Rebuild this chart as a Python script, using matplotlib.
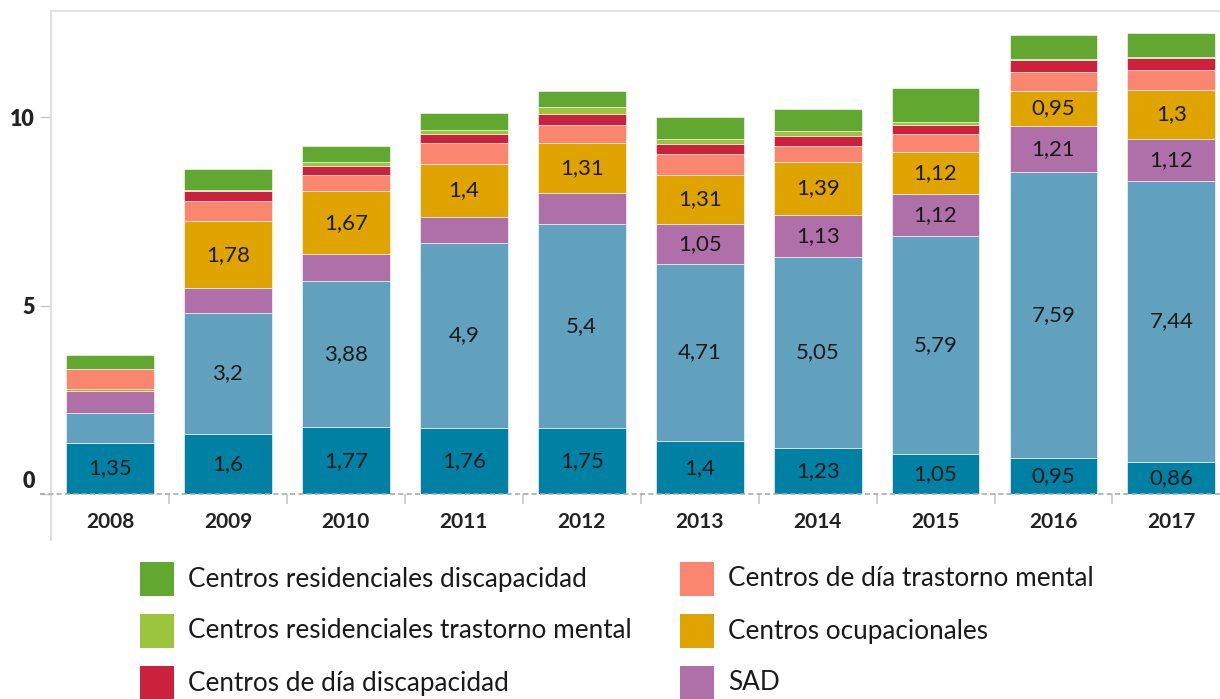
import matplotlib
matplotlib.use("Agg")
import matplotlib.pyplot as plt
import matplotlib.transforms as mtransforms
from matplotlib.patches import Rectangle

plt.rcParams["font.family"] = ["Lato", "DejaVu Sans"]

# datos (de abajo hacia arriba)
years = ["2008", "2009", "2010", "2011", "2012", "2013", "2014", "2015", "2016", "2017"]
serie_a = [1.35, 1.6, 1.77, 1.76, 1.75, 1.4, 1.23, 1.05, 0.95, 0.86]          # azul oscuro
serie_b = [0.80, 3.2, 3.88, 4.9, 5.4, 4.71, 5.05, 5.79, 7.59, 7.44]           # azul claro
sad = [0.58, 0.66, 0.71, 0.70, 0.84, 1.05, 1.13, 1.12, 1.21, 1.12]
ocupacionales = [0.05, 1.78, 1.67, 1.4, 1.31, 1.31, 1.39, 1.12, 0.95, 1.3]
dia_mental = [0.54, 0.53, 0.42, 0.56, 0.48, 0.56, 0.43, 0.48, 0.49, 0.53]
dia_discap = [0.0, 0.26, 0.25, 0.24, 0.31, 0.26, 0.26, 0.24, 0.32, 0.32]
resid_mental = [0.0, 0.04, 0.10, 0.09, 0.18, 0.13, 0.15, 0.08, 0.02, 0.02]
resid_discap = [0.37, 0.55, 0.44, 0.45, 0.42, 0.57, 0.56, 0.88, 0.65, 0.65]

series = [
    ("", serie_a, "#0080A3"),
    ("", serie_b, "#62A1BE"),
    ("SAD", sad, "#AF6FA8"),
    ("Centros ocupacionales", ocupacionales, "#E0A400"),
    ("Centros de día trastorno mental", dia_mental, "#FA866F"),
    ("Centros de día discapacidad", dia_discap, "#CB213D"),
    ("Centros residenciales trastorno mental", resid_mental, "#9BC53D"),
    ("Centros residenciales discapacidad", resid_discap, "#62A830"),
]
n_etiquetadas = 4  # solo las 4 primeras series llevan etiqueta
umbral = 0.85

W, H = 1220, 699
fig = plt.figure(figsize=(W / 100, H / 100), dpi=100)
ax = fig.add_axes([51 / W, 1 - 494 / H, (1230.4 - 51) / W, (494 - 11) / H])

x = list(range(len(years)))
bottom = [0.0] * len(years)
for i, (name, vals, color) in enumerate(series):
    ax.bar(x, vals, bottom=bottom, width=0.745, color=color, edgecolor="white", linewidth=0.4, zorder=2)
    if i < n_etiquetadas:
        for xi, b, v in zip(x, bottom, vals):
            if v > umbral:
                ax.text(xi, b + v / 2, f"{v:g}".replace(".", ","), ha="center", va="center",
                        fontsize=16, color="#1a1a1a", zorder=3)
    bottom = [b + v for b, v in zip(bottom, vals)]

ax.set_xlim(-0.5, 9.5)
ax.set_ylim(0, 483 / 37.7)

# ejes
for s in ("right", "bottom", "left"):
    ax.spines[s].set_visible(False)
ax.spines["top"].set_color("#DDDDDD")
ax.spines["top"].set_linewidth(1.2)
ax.plot([0, 0], [-0.095, 1], transform=ax.transAxes, color="#D9D9D9", lw=1.2, clip_on=False)
ax.axhline(0, xmin=-0.0093, xmax=1, color="#AAAAAA", lw=1.2, ls=(0, (3, 2)), clip_on=False, zorder=4)

ax.set_yticks([0, 5, 10])
ax.set_yticklabels(["0", "5", "10"], fontsize=15.5, fontweight="heavy", color="#222222")
ax.tick_params(axis="y", length=8, width=1, color="#C8C8C8", pad=3.5)
lab0 = ax.get_yticklabels()[0]
lab0.set_transform(lab0.get_transform() + mtransforms.ScaledTranslation(0, 0.14, fig.dpi_scale_trans))

ax.set_xticks(x)
ax.set_xticklabels(years, fontsize=15, fontweight="bold", color="#222222")
ax.tick_params(axis="x", which="major", length=0, pad=13)
ax.set_xticks([i + 0.5 for i in range(9)], minor=True)
ax.tick_params(axis="x", which="minor", length=7, width=1.2, color="#C8C8C8", direction="out")

# leyenda
leyenda = [
    (140, 579, "Centros residenciales discapacidad", "#62A830"),
    (140, 631, "Centros residenciales trastorno mental", "#9BC53D"),
    (140, 683, "Centros de día discapacidad", "#CB213D"),
    (680, 579, "Centros de día trastorno mental", "#FA866F"),
    (680, 631, "Centros ocupacionales", "#E0A400"),
    (680, 683, "SAD", "#AF6FA8"),
]
for px, py, label, color in leyenda:
    fig.add_artist(Rectangle((px / W, 1 - (py + 17) / H), 34 / W, 34 / H,
                             transform=fig.transFigure, facecolor=color, edgecolor="none"))
    fig.text((px + 48) / W, 1 - py / H, label, ha="left", va="center", fontsize=18.8, color="#1a1a1a")

fig.savefig("out.png", dpi=100)
